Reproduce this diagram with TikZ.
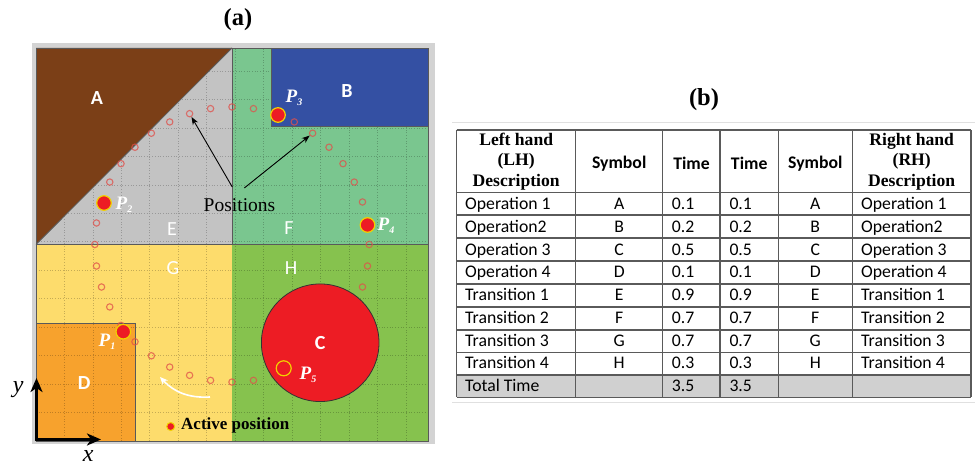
\documentclass[tikz,border=0pt]{standalone}
\usepackage{fontspec}
\setmainfont{Liberation Serif}
\newfontfamily\calfont{Carlito}
\usetikzlibrary{arrows.meta}
\definecolor{cA}{HTML}{7B3F17}
\definecolor{cB}{HTML}{3450A3}
\definecolor{cC}{HTML}{ED1C24}
\definecolor{cD}{HTML}{F7A22D}
\definecolor{cE}{HTML}{C3C3C3}
\definecolor{cF}{HTML}{7AC68F}
\definecolor{cG}{HTML}{FDDC6C}
\definecolor{cH}{HTML}{86C24E}
\definecolor{cFrame}{HTML}{D3D3D3}
\definecolor{mk}{HTML}{E0504A}
\definecolor{ring}{HTML}{F2D000}
\definecolor{tline}{HTML}{5A5A5A}
\definecolor{tshade}{HTML}{D0D0D0}
\newcommand\Plab[1]{{\fontsize{19}{19}\selectfont\bfseries\itshape P\raisebox{-3.5pt}{\fontsize{10}{10}\selectfont #1}}}
\tikzset{
  region/.style={draw=black!65, line width=0.8pt},
  bigl/.style={text=white, font=\calfont\bfseries\fontsize{20}{20}\selectfont},
  smalll/.style={text=white, font=\calfont\fontsize{20}{20}\selectfont},
  plab/.style={text=white, inner sep=0pt},
  mkr/.style={circle, draw=mk, draw opacity=0.75, line width=1.1pt, minimum size=6.4pt, inner sep=0pt},
  pdot/.style={circle, fill=cC, draw=ring, line width=1.2pt, minimum size=14.6pt, inner sep=0pt},
  pring/.style={circle, draw=ring, line width=1.2pt, minimum size=15pt, inner sep=0pt},
  gridl/.style={black, opacity=0.22, dotted, line width=0.7pt},
  axisarrow/.style={line width=2.6pt, -{Stealth[length=14pt,width=12pt,inset=4pt]}},
  ptr/.style={line width=0.9pt, -{Stealth[length=8pt,width=6pt]}},
  tb/.style={font=\calfont\fontsize{17.7}{20}\selectfont, inner sep=0pt},
  tbh/.style={font=\calfont\bfseries\fontsize{17.7}{20}\selectfont, inner sep=0pt},
  th/.style={font=\bfseries\fontsize{17.6}{20.6}\selectfont, align=center, inner sep=0pt},
  tgrid/.style={tline, line width=1.1pt},
  ttl/.style={font=\bfseries\fontsize{24.5}{24.5}\selectfont, inner sep=0pt}
}
\begin{document}
\begin{tikzpicture}[x=1pt,y=-1pt]
\useasboundingbox (0,0) rectangle (975,465);
% titles
\node[ttl] (ta) at (238,20) {(a)};
\node[ttl] (tbb) at (704,100) {(b)};
% frame
\fill[cFrame] (32,43) rectangle (435,444);
\begin{scope}[shift={(36pt,-441pt)}, x=39.2pt, y=39.3pt]
  \fill[cG] (0,0) rectangle (5,5);
  \fill[cH] (5,0) rectangle (10,5);
  \fill[cF] (5,5) rectangle (10,10);
  \fill[cE] (0,5) -- (5,10) -- (5,5) -- cycle;
  \fill[cD] (0,0) rectangle (2.53,2.98);
  \draw[gridl] (0,0) grid (10,10);
  \fill[cA] (0,5) -- (0,10) -- (5,10) -- cycle;
  \fill[cB] (6,8) rectangle (10,10);
  \draw[region] (0,5) -- (5,10);
  \draw[region] (6,10) -- (6,8) -- (10,8);
  \draw[region] (0,2.98) -- (2.53,2.98) -- (2.53,0);
  \draw[region] (5,5) -- (5,10);
  \draw[region] (0,5) -- (10,5);
  \draw[region] (0,0) rectangle (10,10);
  \foreach \k in {0,...,39} {
    \node[mkr] (m\k) at ({5+3.5*cos(9*\k)},{5+3.5*sin(9*\k)}) {};
  }
  \node[circle, fill=cC, draw=black!80, line width=0.8pt, minimum size=117.6pt, inner sep=0pt, bigl] (C) at (7.25,2.5) {C};
\end{scope}
% region labels
\node[bigl] (A) at (97,98) {A};
\node[bigl] (B) at (347,91) {B};
\node[bigl] (D) at (84.3,383) {D};
\node[smalll] (E) at (172,229) {E};
\node[smalll] (F) at (289,228) {F};
\node[smalll] (G) at (173,268) {G};
\node[smalll] (H) at (291,268) {H};
% active positions
\node[pdot] (P3) at (278,115) {};
\node[pdot] (P2) at (104,203) {};
\node[pdot] (P4) at (367.5,225) {};
\node[pdot] (P1) at (123.3,331.7) {};
\node[pring] (P5) at (283.7,368.3) {};
\node[plab] (L3) at (294,98) {\Plab{3}};
\node[plab] (L2) at (124,205) {\Plab{2}};
\node[plab] (L4) at (386,226) {\Plab{4}};
\node[plab] (L1) at (107,342) {\Plab{1}};
\node[plab] (L5) at (308,375) {\Plab{5}};
% positions label
\node[font=\fontsize{19.5}{19.5}\selectfont, inner sep=0pt] (pos) at (239.5,205) {Positions};
\coordinate (ps1) at (232.3,187);
\coordinate (ps2) at (244.3,188);
\draw[ptr] (ps1) -- (m12);
\draw[ptr] (ps2) -- (m6);
% white curved arrow
\coordinate (wa1) at (210,397);
\coordinate (wa2) at (160,377);
\draw[white, line width=1.6pt, -{Stealth[length=8pt,width=7pt]}] (wa1) to[bend left=25] (wa2);
% legend
\node[circle, fill=cC, draw=ring, line width=1pt, minimum size=8pt, inner sep=0pt] (leg) at (170.7,426.5) {};
\node[anchor=west, inner sep=0pt, font=\bfseries\fontsize{17}{17}\selectfont] (legt) at (181,425) {Active position};
% axes
\coordinate (org) at (36.5,441);
\coordinate (yend) at (36.5,378);
\coordinate (xorg) at (35,439.5);
\coordinate (xend) at (101,439.5);
\draw[axisarrow] (org) -- (yend);
\draw[axisarrow] (xorg) -- (xend);
\node[font=\itshape\fontsize{24}{24}\selectfont, inner sep=0pt] (ylab) at (18.3,390) {y};
\node[font=\itshape\fontsize{24}{24}\selectfont, inner sep=0pt] (xlab) at (88.3,456) {x};
% table
\draw[black!12, line width=1.2pt] (452,122.7) -- (975,122.7);
\draw[black!12, line width=1.2pt] (452,402.7) -- (975,402.7);
\fill[tshade] (456.7,375) rectangle (971,397.3);
\foreach \yy in {130,192.3,215,238,261,284,307,330,352.7,375,397.3}
  \draw[tgrid] (456.7,\yy) -- (971,\yy);
\foreach \xx in {456.7,575.7,662.7,720,778.3,852.3,971}
  \draw[tgrid] (\xx,130) -- (\xx,397.3);
\node[th] (h1) at (516.2,161.5) {Left hand\\(LH)\\Description};
\node[tbh] (h2) at (619.2,163.3) {Symbol};
\node[tbh] (h3) at (691.5,163.3) {Time};
\node[tbh] (h4) at (749.2,163.3) {Time};
\node[tbh] (h5) at (815.3,163.3) {Symbol};
\node[th] (h6) at (911.7,161.5) {Right hand\\(RH)\\Description};
\foreach \r/\ld/\s/\t in {1/Operation 1/A/0.1, 2/Operation2/B/0.2, 3/Operation 3/C/0.5, 4/Operation 4/D/0.1, 5/Transition 1/E/0.9, 6/Transition 2/F/0.7, 7/Transition 3/G/0.7, 8/Transition 4/H/0.3} {
  \pgfmathsetmacro\yy{192.3+22.78*(\r-0.5)+5.8}
  \node[tb, anchor=base west] (l\r) at (465,\yy) {\ld};
  \node[tb, anchor=base] (s\r) at (619.2,\yy) {\s};
  \node[tb, anchor=base west] (t\r) at (671.7,\yy) {\t};
  \node[tb, anchor=base west] (u\r) at (729.3,\yy) {\t};
  \node[tb, anchor=base] (v\r) at (815.3,\yy) {\s};
  \node[tb, anchor=base west] (w\r) at (861,\yy) {\ld};
}
\node[tb, anchor=base west] (l9) at (465,391.7) {Total Time};
\node[tb, anchor=base west] (t9) at (671.7,391.7) {3.5};
\node[tb, anchor=base west] (u9) at (729.3,391.7) {3.5};
\end{tikzpicture}
\end{document}
